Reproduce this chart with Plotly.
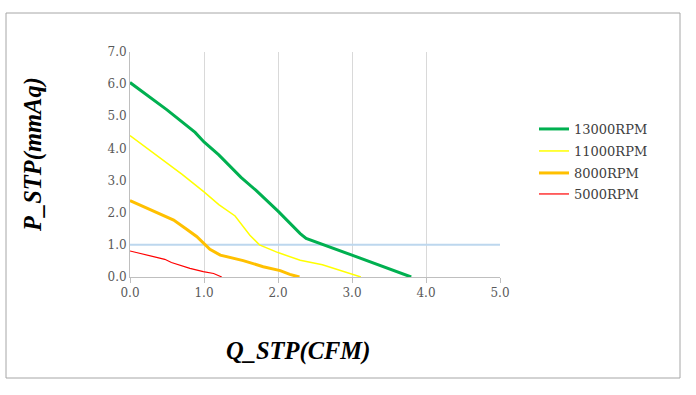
import plotly.graph_objects as go

# Data
q_13000 = [0, 0.15, 0.5, 0.88, 1.0, 1.2, 1.5, 1.7, 2.0, 2.3, 2.38, 3.0, 3.8]
p_13000 = [6.05, 5.8, 5.2, 4.5, 4.2, 3.8, 3.1, 2.7, 2.05, 1.35, 1.2, 0.68, 0.0]

q_11000 = [0, 0.35, 0.7, 1.0, 1.2, 1.42, 1.53, 1.62, 1.75, 2.0, 2.3, 2.6, 3.12]
p_11000 = [4.4, 3.8, 3.2, 2.65, 2.25, 1.9, 1.57, 1.3, 1.0, 0.76, 0.52, 0.38, 0.0]

q_8000 = [0, 0.27, 0.59, 0.77, 0.9, 1.08, 1.22, 1.53, 1.8, 2.03, 2.16, 2.29]
p_8000 = [2.38, 2.09, 1.77, 1.48, 1.26, 0.86, 0.68, 0.51, 0.32, 0.2, 0.08, 0.0]

q_5000 = [0, 0.25, 0.47, 0.56, 0.81, 0.99, 1.13, 1.24]
p_5000 = [0.81, 0.68, 0.55, 0.45, 0.27, 0.17, 0.11, 0.0]

ref_level = 1.0
x_ticks = [0, 1, 2, 3, 4, 5]
y_ticks = [0, 1, 2, 3, 4, 5, 6, 7]

W, H = 696, 395
L, R, T, B = 130, 500, 52, 277

fig = go.Figure()
fig.add_trace(go.Scatter(x=[0, 5], y=[ref_level, ref_level], mode="lines",
                         line=dict(color="#bdd7ee", width=2), showlegend=False, hoverinfo="skip"))
series = [
    ("13000RPM", q_13000, p_13000, "#00b050", 3),
    ("11000RPM", q_11000, p_11000, "#ffff00", 1.5),
    ("8000RPM", q_8000, p_8000, "#ffc000", 3),
    ("5000RPM", q_5000, p_5000, "#ff0000", 1.2),
]
legend_ids = ["legend", "legend2", "legend3", "legend4"]
legend_tops = [114, 136, 158, 179]
for (name, xs, ys, c, w), lid in zip(series, legend_ids):
    fig.add_trace(go.Scatter(x=xs, y=ys, mode="lines", name=name, legend=lid,
                             line=dict(color=c, width=w)))

leg_font = dict(family="DejaVu Serif, serif", size=13, color="#404040")
legends = {}
for lid, top in zip(legend_ids, legend_tops):
    legends[lid] = dict(x=(534 - L) / (R - L), y=(B - top) / (B - T), xanchor="left", yanchor="top",
                        font=leg_font, itemwidth=30, bgcolor="rgba(0,0,0,0)")

serif = "Liberation Serif, Times New Roman, serif"
fig.update_layout(
    width=W, height=H,
    margin=dict(l=L, r=W - R, t=T, b=H - B),
    paper_bgcolor="white", plot_bgcolor="white",
    font=dict(family="DejaVu Serif, serif", size=12, color="#595959"),
    xaxis=dict(range=[0, 5], tickvals=x_ticks, tickformat=".1f", showgrid=True,
               gridcolor="#d9d9d9", gridwidth=1, showline=True, linecolor="#bfbfbf", linewidth=1,
               ticks="outside", ticklen=5, tickcolor="#bfbfbf", zeroline=False,
               tickfont=dict(size=12, color="#595959")),
    yaxis=dict(range=[0, 7], tickvals=y_ticks, tickformat=".1f", showgrid=False,
               showline=True, linecolor="#bfbfbf", linewidth=1, zeroline=False,
               ticks="", ticklen=0,
               tickfont=dict(size=12, color="#595959")),
    shapes=[dict(type="rect", xref="paper", yref="paper",
                 x0=(6 - L) / (R - L), x1=(680 - L) / (R - L),
                 y0=(B - 378) / (B - T), y1=(B - 13) / (B - T),
                 line=dict(color="#a6a6a6", width=1), fillcolor="rgba(0,0,0,0)", layer="below")],
    annotations=[
        dict(text="<b><i>Q_STP(CFM)</i></b>", xref="paper", yref="paper",
             x=(298 - L) / (R - L), y=(B - 351) / (B - T), showarrow=False,
             font=dict(family=serif, size=24.5, color="black"), xanchor="center", yanchor="middle"),
        dict(text="<b><i>P_STP(mmAq)</i></b>", xref="paper", yref="paper",
             x=(33 - L) / (R - L), y=(B - 155) / (B - T), showarrow=False, textangle=-90,
             font=dict(family=serif, size=24.5, color="black"), xanchor="center", yanchor="middle"),
    ],
    **legends,
)
fig.write_html("out.html", config={"displayModeBar": False},
               post_script="document.body.style.margin='0';document.body.style.padding='0';")
